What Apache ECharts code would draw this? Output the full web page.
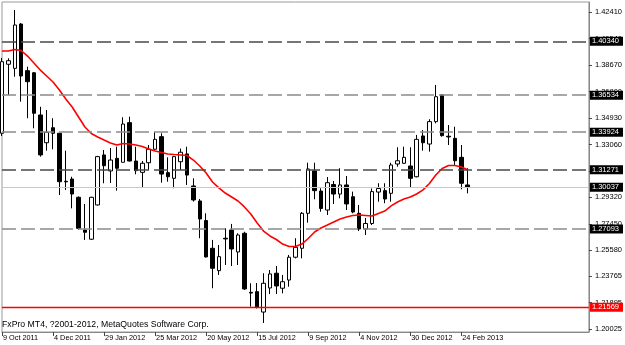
<!DOCTYPE html>
<html>
<head>
<meta charset="utf-8">
<script src="https://cdn.jsdelivr.net/npm/echarts@6/dist/echarts.min.js"></script>
<style>
  html, body { margin: 0; padding: 0; background: #fff; }
  #root { width: 625px; height: 345px; }
</style>
</head>
<body>
<div id="root"></div>
<script>
// weekly candles, first one is the week of 9 Oct 2011
const opens = [1.3385, 1.3872, 1.3843, 1.4156, 1.3827, 1.3812, 1.3514, 1.3318, 1.3424, 1.3385,
  1.3046, 1.3062, 1.2933, 1.2702, 1.2637, 1.2879, 1.3232, 1.3119, 1.3208, 1.3180,
  1.3460, 1.3189, 1.3109, 1.3177, 1.3272, 1.3361, 1.3107, 1.3067, 1.3184, 1.3239,
  1.3013, 1.2907, 1.2769, 1.2573, 1.2415, 1.2644, 1.2702, 1.2547, 1.2679, 1.2262,
  1.2267, 1.2123, 1.2293, 1.2397, 1.2291, 1.2349, 1.2510, 1.2573, 1.2820, 1.3119,
  1.2977, 1.2843, 1.3023, 1.2956, 1.3020, 1.2937, 1.2820, 1.2709, 1.2748, 1.2970,
  1.2980, 1.2961, 1.3168, 1.3173, 1.3154, 1.3078, 1.3366, 1.3309, 1.3467, 1.3655,
  1.3364, 1.3349, 1.3215, 1.3020];
const closes = [1.3890, 1.3897, 1.4149, 1.3789, 1.3749, 1.3526, 1.3232, 1.3392, 1.3385, 1.3043,
  1.3042, 1.2956, 1.2714, 1.2686, 1.2933, 1.3220, 1.3156, 1.3196, 1.3138, 1.3450,
  1.3189, 1.3121, 1.3173, 1.3272, 1.3342, 1.3097, 1.3078, 1.3220, 1.3251, 1.3090,
  1.2914, 1.2780, 1.2512, 1.2432, 1.2514, 1.2639, 1.2568, 1.2667, 1.2286, 1.2257,
  1.2157, 1.2326, 1.2392, 1.2307, 1.2337, 1.2510, 1.2580, 1.2820, 1.3133, 1.2980,
  1.2854, 1.3036, 1.2956, 1.3020, 1.2886, 1.2829, 1.2709, 1.2748, 1.2973, 1.2995,
  1.2921, 1.3161, 1.3191, 1.3215, 1.3067, 1.3342, 1.3318, 1.3467, 1.3643, 1.3368,
  1.3359, 1.3191, 1.3032, 1.30037];
const lows = [1.3366, 1.3655, 1.3784, 1.3608, 1.3491, 1.3420, 1.3220, 1.3262, 1.3272, 1.2949,
  1.2985, 1.2855, 1.2702, 1.2632, 1.2632, 1.2875, 1.3032, 1.3034, 1.2980, 1.3179,
  1.3186, 1.3095, 1.3004, 1.3126, 1.3270, 1.3036, 1.3043, 1.2997, 1.3126, 1.3020,
  1.2903, 1.2644, 1.2508, 1.2291, 1.2385, 1.2455, 1.2448, 1.2455, 1.2279, 1.2161,
  1.2148, 1.2046, 1.2250, 1.2250, 1.2255, 1.2302, 1.2502, 1.2502, 1.2754, 1.2919,
  1.2831, 1.2808, 1.2886, 1.2926, 1.2843, 1.2820, 1.2695, 1.2667, 1.2737, 1.2902,
  1.2891, 1.2902, 1.3149, 1.3168, 1.3004, 1.3074, 1.3262, 1.3255, 1.3455, 1.3361,
  1.3302, 1.3161, 1.2989, 1.2961];
const highs = [1.3916, 1.3914, 1.4255, 1.4163, 1.3855, 1.3817, 1.3572, 1.3549, 1.3491, 1.3387,
  1.3262, 1.3078, 1.2939, 1.2886, 1.2937, 1.3225, 1.3267, 1.3281, 1.3290, 1.3498,
  1.3502, 1.3290, 1.3189, 1.3302, 1.3396, 1.3385, 1.3215, 1.3225, 1.3277, 1.3290,
  1.3067, 1.2921, 1.2820, 1.2632, 1.2596, 1.2714, 1.2745, 1.2679, 1.2690, 1.2326,
  1.2328, 1.2397, 1.2420, 1.2448, 1.2385, 1.2526, 1.2644, 1.2829, 1.3177, 1.3177,
  1.2997, 1.3076, 1.3048, 1.3138, 1.3083, 1.2973, 1.2879, 1.2787, 1.2995, 1.3032,
  1.3032, 1.3177, 1.3286, 1.3290, 1.3286, 1.3373, 1.3408, 1.3484, 1.3726, 1.3662,
  1.3443, 1.3431, 1.3302, 1.3138];

// red moving average
const maValues = [1.3966, 1.3966, 1.3976, 1.3969, 1.3930, 1.3881, 1.3831, 1.3789, 1.3747, 1.3690,
  1.3627, 1.3570, 1.3500, 1.3429, 1.3383, 1.3359, 1.3337, 1.3316, 1.3302, 1.3313,
  1.3309, 1.3302, 1.3292, 1.3274, 1.3260, 1.3249, 1.3239, 1.3235, 1.3232, 1.3228,
  1.3196, 1.3154, 1.3105, 1.3041, 1.2999, 1.2963, 1.2935, 1.2907, 1.2865, 1.2815,
  1.2752, 1.2695, 1.2660, 1.2635, 1.2603, 1.2586, 1.2586, 1.2603, 1.2642, 1.2688,
  1.2716, 1.2737, 1.2759, 1.2780, 1.2794, 1.2805, 1.2808, 1.2805, 1.2801, 1.2819,
  1.2836, 1.2872, 1.2900, 1.2921, 1.2935, 1.2956, 1.2985, 1.3030, 1.3090, 1.3136,
  1.3157, 1.3157, 1.3147, 1.31271];

// horizontal levels
const dashedDark = [1.40340, 1.31271];
const dashedGray = [1.36534, 1.33924, 1.27093];
const bidLevel = 1.30037;
const redLevel = 1.21569;

const yTicks = [1.20025, 1.21895, 1.23765, 1.25580, 1.27450, 1.29320, 1.31190,
  1.33060, 1.34930, 1.36800, 1.38670, 1.40540, 1.42410];
const xTickLabels = ['9 Oct 2011', '4 Dec 2011', '29 Jan 2012', '25 Mar 2012', '20 May 2012',
  '15 Jul 2012', '9 Sep 2012', '4 Nov 2012', '30 Dec 2012', '24 Feb 2013'];

const slots = 93; // chart keeps empty space on the right
const months = ['Jan', 'Feb', 'Mar', 'Apr', 'May', 'Jun', 'Jul', 'Aug', 'Sep', 'Oct', 'Nov', 'Dec'];
let cats = [];
for (let i = 0; i < slots; i++) {
  let d = new Date(2011, 9, 9 + i * 7);
  cats.push(d.getDate() + ' ' + months[d.getMonth()] + ' ' + d.getFullYear());
}

let candles = opens.map((o, i) => [o, closes[i], lows[i], highs[i]]);

const font = 'Liberation Sans';
const tickEvery = i => i % 8 === 0 && i / 8 < xTickLabels.length;

function level(v, color, type, width, bg) {
  return {
    yAxis: v,
    lineStyle: { color: color, type: type, width: width, opacity: 1 },
    label: {
      show: true, position: 'end', distance: 1,
      formatter: v.toFixed(5),
      backgroundColor: bg, color: '#fff',
      padding: [1, 4, 0, 2], fontSize: 7.5, fontFamily: font
    }
  };
}

let lines = [];
dashedDark.forEach(v => lines.push(level(v, '#4a4a4a', [14, 5], 1.6, '#000')));
dashedGray.forEach(v => lines.push(level(v, '#8a8a8a', [14, 5], 1.6, '#000')));
lines.push(level(bidLevel, '#c8c8c8', 'solid', 1, '#000'));
lines.push(level(redLevel, '#ff0000', 'solid', 1.3, '#ff0000'));

let myChart = echarts.init(document.getElementById('root'));

let option = {
  animation: false,
  backgroundColor: '#fff',
  title: {
    text: 'FxPro MT4, ?2001-2012, MetaQuotes Software Corp.',
    left: 2, top: 320, padding: 0,
    textStyle: { fontSize: 8.7, fontWeight: 'normal', color: '#000', fontFamily: font }
  },
  grid: {
    left: 2, right: 31, top: 2, bottom: 13,
    show: true, borderColor: '#999', borderWidth: 1, backgroundColor: '#fff'
  },
  xAxis: {
    type: 'category',
    data: cats,
    boundaryGap: false,
    axisLine: { lineStyle: { color: '#888' } },
    axisTick: { interval: tickEvery, length: 4, lineStyle: { color: '#444' } },
    axisLabel: {
      interval: tickEvery,
      formatter: (v, i) => xTickLabels[i / 8],
      align: 'left', margin: 2, padding: [0, 0, 0, 1],
      fontSize: 7.3, color: '#000', fontFamily: font
    },
    splitLine: { show: false }
  },
  yAxis: {
    type: 'value',
    position: 'right',
    min: 1.19822,
    max: 1.43114,
    splitLine: { show: false },
    axisLine: { show: true, lineStyle: { color: '#888' } },
    axisTick: { show: true, length: 3, customValues: yTicks, lineStyle: { color: '#444' } },
    axisLabel: {
      customValues: yTicks,
      formatter: v => v.toFixed(5),
      margin: 6, fontSize: 7.5, color: '#000', fontFamily: font
    }
  },
  series: [
    {
      type: 'candlestick',
      data: candles,
      barWidth: 4,
      itemStyle: {
        color: '#fff', color0: '#000',
        borderColor: '#000', borderColor0: '#000', borderWidth: 1
      },
      z: 2
    },
    {
      type: 'line',
      data: maValues,
      showSymbol: false,
      symbol: 'none',
      clip: false,
      lineStyle: { color: '#ff0000', width: 1.6 },
      z: 3,
      markLine: {
        silent: true,
        precision: 5, // keep the levels exact, default would round to 2 places
        symbol: ['none', 'none'],
        animation: false,
        data: lines
      }
    }
  ]
};

myChart.setOption(option);
</script>
</body>
</html>
